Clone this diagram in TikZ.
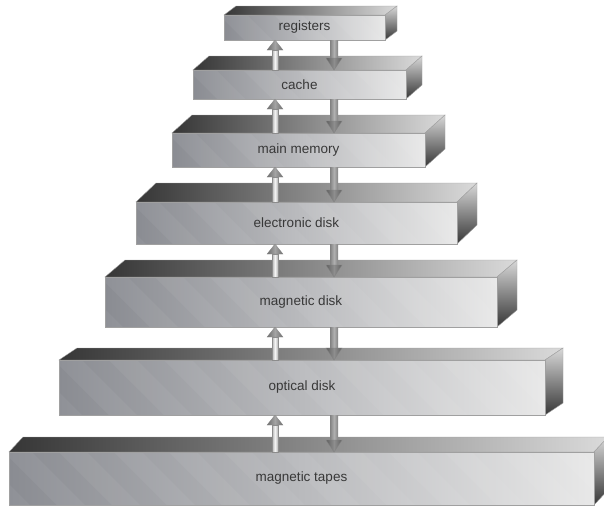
\documentclass[tikz,border=0pt]{standalone}
\usepackage{fontspec}
\setmainfont{Liberation Sans}
\usetikzlibrary{calc,backgrounds}

\definecolor{txt}{HTML}{383838}
\definecolor{frontL}{HTML}{8A8C92}
\definecolor{frontR}{HTML}{E8E8E8}
\definecolor{topL}{HTML}{363636}
\definecolor{topR}{HTML}{DADADA}
\definecolor{sideT}{HTML}{D8D8D8}
\definecolor{sideB}{HTML}{363636}
\definecolor{edge}{HTML}{A0A0A0}
\definecolor{upEdge}{HTML}{8C8C8C}
\definecolor{upShaftS}{HTML}{B4B4B4}
\definecolor{upShaftM}{HTML}{F4F4F4}
\definecolor{upHeadS}{HTML}{6C6C6C}
\definecolor{upHeadM}{HTML}{A4A4A4}
\definecolor{dnShaftS}{HTML}{828282}
\definecolor{dnShaftM}{HTML}{B0B0B0}
\definecolor{dnHeadS}{HTML}{606060}
\definecolor{dnHeadM}{HTML}{8E8E8E}

% front, top and right faces of a block drawn behind its named front node
% #1 node name, #2/#3 depth offset of the back edge
\newcommand\blockfaces[3]{%
  \begin{pgfonlayer}{background}
    \shade[left color=topL, right color=topR, draw=edge, line width=.4pt]
      (#1.north west) -- (#1.north east) -- ($(#1.north east)+(#2,#3)$)
      -- ($(#1.north west)+(#2,#3)$) -- cycle;
    \shade[top color=sideT, bottom color=sideB, draw=edge, line width=.4pt]
      (#1.north east) -- ($(#1.north east)+(#2,#3)$)
      -- ($(#1.south east)+(#2,#3)$) -- (#1.south east) -- cycle;
    \shade[left color=frontL, right color=frontR]
      (#1.south west) rectangle (#1.north east);
    \begin{scope}
      \clip (#1.south west) rectangle (#1.north east);
      \foreach \k in {0,...,12}
        \fill[white, opacity=0.05]
          ($(#1.north west)+(\k*55-60,0)$) -- ++(28,0) -- ++(60,60) -- ++(-28,0) -- cycle;
    \end{scope}
    \draw[edge, line width=.5pt] (#1.south west) rectangle (#1.north east);
  \end{pgfonlayer}}

% pair of transfer arrows between a lower block #1 and an upper block #2
\newcommand\transfer[2]{%
  % upward arrow
  \shade[left color=upShaftS, right color=upShaftS, middle color=upShaftM,
         draw=upEdge, line width=.3pt]
    ($(#1.north -| upx)+(-3,0)$) rectangle ($(#2.south -| upx)+(3,10)$);
  \shade[left color=upHeadS, right color=upHeadS, middle color=upHeadM,
         draw=upEdge, line width=.3pt]
    (#2.south -| upx) -- ($(#2.south -| upx)+(8,10)$)
    -- ($(#2.south -| upx)+(-8,10)$) -- cycle;
  % downward arrow
  \shade[left color=dnShaftS, right color=dnShaftS, middle color=dnShaftM]
    ($(#2.south -| dnx)+(-4,0)$) rectangle ($(#1.north -| dnx)+(4,-12)$);
  \shade[left color=dnHeadS, right color=dnHeadS, middle color=dnHeadM,
         draw=dnShaftS, line width=.3pt]
    (#1.north -| dnx) -- ($(#1.north -| dnx)+(8,-12)$)
    -- ($(#1.north -| dnx)+(-8,-12)$) -- cycle;}

\begin{document}
\begin{tikzpicture}[x=1pt, y=-1pt,
  level/.style={inner sep=0pt, outer sep=0pt, text=txt,
                font=\fontsize{13.5}{16}\selectfont}]
\useasboundingbox (0,0) rectangle (604,506);
\clip (0,0) rectangle (604,506);

\coordinate (upx) at (275,0);
\coordinate (dnx) at (334,0);

\node[level, minimum width=161pt, minimum height=25pt] (reg)   at (304.5,27.5)  {registers};
\node[level, minimum width=213pt, minimum height=29pt] (cache) at (299.5,84.5)  {cache};
\node[level, minimum width=253pt, minimum height=34pt] (mem)   at (298.5,150)   {main memory};
\node[level, minimum width=321pt, minimum height=42pt] (edisk) at (296.5,223)   {electronic disk};
\node[level, minimum width=392pt, minimum height=50pt] (mdisk) at (301,302)     {magnetic disk};
\node[level, minimum width=486pt, minimum height=55pt] (odisk) at (302,387.5)   {optical disk};
\node[level, minimum width=585pt, minimum height=53pt] (tape)  at (301.5,478.5) {magnetic tapes};

\blockfaces{reg}{12}{-9}
\blockfaces{cache}{16}{-14}
\blockfaces{mem}{20}{-18}
\blockfaces{edisk}{20}{-19}
\blockfaces{mdisk}{20}{-17}
\blockfaces{odisk}{18}{-12}
\blockfaces{tape}{14}{-15}

\transfer{cache}{reg}
\transfer{mem}{cache}
\transfer{edisk}{mem}
\transfer{mdisk}{edisk}
\transfer{odisk}{mdisk}
\transfer{tape}{odisk}
\end{tikzpicture}
\end{document}
